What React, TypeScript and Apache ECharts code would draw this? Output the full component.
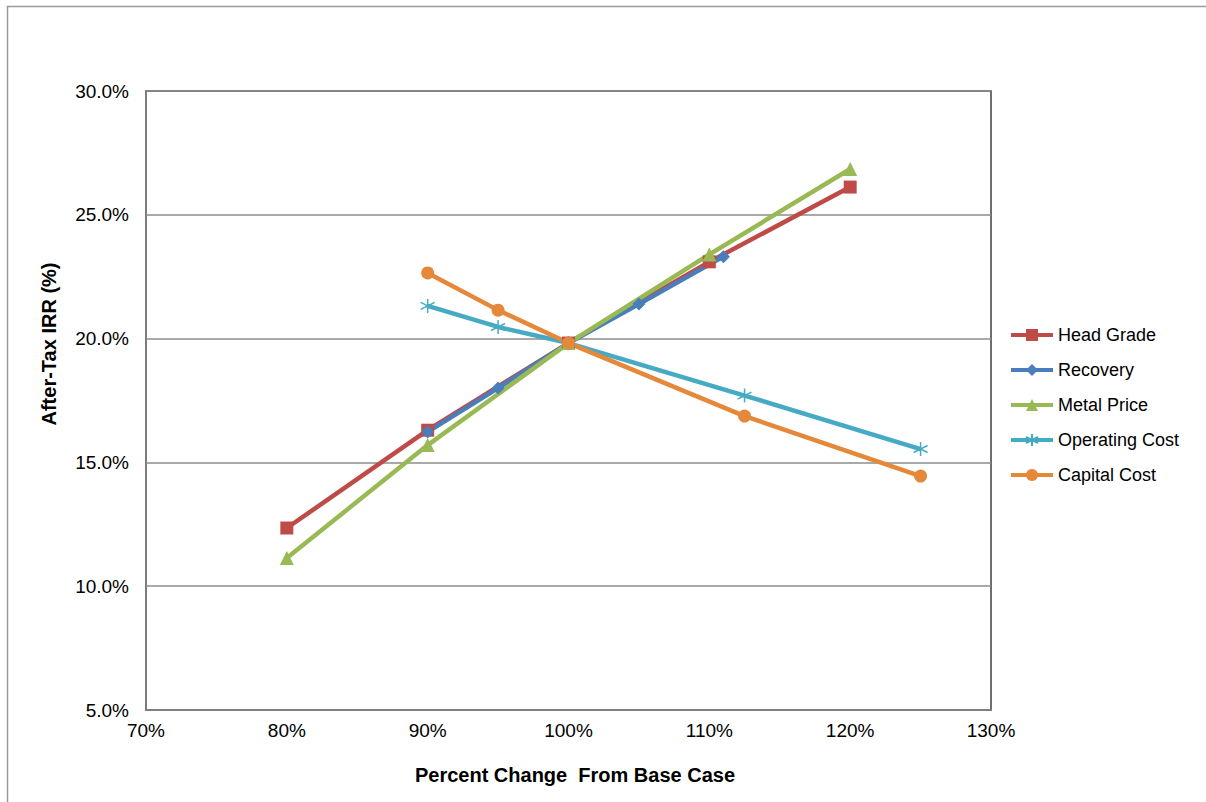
import React, { useEffect, useRef } from "react";
import * as echarts from "echarts";

const xTicks = [70, 80, 90, 100, 110, 120, 130];
const yTicks = [5, 10, 15, 20, 25, 30];

const headGradeX = [80, 90, 100, 110, 120];
const headGradeY = [12.35, 16.3, 19.82, 23.1, 26.12];

const recoveryX = [90, 95, 100, 105, 111];
const recoveryY = [16.23, 18.0, 19.82, 21.4, 23.31];

const metalPriceX = [80, 90, 100, 110, 120];
const metalPriceY = [11.14, 15.7, 19.82, 23.4, 26.85];

const operatingCostX = [90, 95, 100, 112.5, 125];
const operatingCostY = [21.32, 20.47, 19.82, 17.7, 15.54];

const capitalCostX = [90, 95, 100, 112.5, 125];
const capitalCostY = [22.65, 21.15, 19.82, 16.87, 14.45];

const seriesNames = ["Head Grade", "Recovery", "Metal Price", "Operating Cost", "Capital Cost"];
const colors = ["#BE4B48", "#4A7EBB", "#98B954", "#46AAC5", "#E6883A"];

const xTitle = "Percent Change  From Base Case";
const yTitle = "After-Tax IRR (%)";

const FONT = "Liberation Sans, Arial, sans-serif";

const zip = (xs: number[], ys: number[]) => xs.map((x, i) => [x, ys[i]]);

const asterisk = "path://M5,0 L5,10 M0.7,2.5 L9.3,7.5 M0.7,7.5 L9.3,2.5";

export default function App() {
  const ref = useRef<HTMLDivElement>(null);
  useEffect(() => {
    if (!ref.current) return;
    const chart = echarts.init(ref.current, undefined, { renderer: "svg" });
    const datasets = [
      zip(headGradeX, headGradeY),
      zip(recoveryX, recoveryY),
      zip(metalPriceX, metalPriceY),
      zip(operatingCostX, operatingCostY),
      zip(capitalCostX, capitalCostY),
    ];
    const symbols = ["rect", "diamond", "triangle", asterisk, "circle"];
    const sizes = [13, 13, 14, 14, 13];
    chart.setOption({
      animation: false,
      backgroundColor: "#ffffff",
      textStyle: { fontFamily: FONT, color: "#000" },
      graphic: [
        {
          type: "rect",
          shape: { x: 7.5, y: 6.5, width: 1220, height: 820 },
          style: { fill: "none", stroke: "#9a9a9a", lineWidth: 1.5 },
          silent: true,
        },
        {
          type: "text",
          x: 49,
          y: 344,
          rotation: Math.PI / 2,
          style: {
            text: yTitle,
            fontFamily: FONT,
            fontSize: 20,
            fontWeight: "bold",
            fill: "#000",
            align: "center",
            verticalAlign: "middle",
          },
          silent: true,
        },
      ],
      grid: { left: 146, top: 91, right: 215, bottom: 92, show: true, borderColor: "#404040", borderWidth: 1.5 },
      legend: {
        orient: "vertical",
        left: 1009,
        top: 326,
        padding: 0,
        itemWidth: 42,
        itemHeight: 15,
        itemGap: 17,
        data: seriesNames,
        lineStyle: { width: 4 },
        textStyle: { fontFamily: FONT, fontSize: 18, color: "#000", lineHeight: 18 },
      },
      xAxis: {
        type: "value",
        min: xTicks[0],
        max: xTicks[xTicks.length - 1],
        interval: 10,
        name: xTitle,
        nameLocation: "middle",
        nameGap: 55,
        nameTextStyle: { fontFamily: FONT, fontSize: 20, fontWeight: "bold", color: "#000", padding: [0, 0, 0, 13] },
        axisLine: { show: true, lineStyle: { color: "#808080", width: 2 } },
        axisTick: { show: false },
        splitLine: { show: false },
        axisLabel: { formatter: (v: number) => v + "%", fontSize: 19, color: "#000", margin: 11, fontFamily: FONT },
      },
      yAxis: {
        type: "value",
        min: yTicks[0],
        max: yTicks[yTicks.length - 1],
        interval: 5,
        axisLine: { show: true, lineStyle: { color: "#808080", width: 1.5 } },
        axisTick: { show: false },
        splitLine: { show: true, lineStyle: { color: "#8c8c8c", width: 1.5 } },
        axisLabel: { formatter: (v: number) => v.toFixed(1) + "%", fontSize: 19, color: "#000", margin: 17, fontFamily: FONT },
      },
      series: seriesNames.map((name, i) => ({
        name,
        type: "line",
        data: datasets[i],
        symbol: symbols[i],
        symbolSize: sizes[i],
        showAllSymbol: true,
        lineStyle: { color: colors[i], width: 4.5 },
        itemStyle:
          i === 3
            ? { color: colors[i], borderColor: colors[i], borderWidth: 1.5 }
            : { color: colors[i] },
        emphasis: { disabled: true },
      })),
    });
    return () => chart.dispose();
  }, []);
  return (
    <div
      ref={ref}
      style={{ position: "absolute", left: 0, top: 0, width: 1206, height: 802 }}
    />
  );
}
